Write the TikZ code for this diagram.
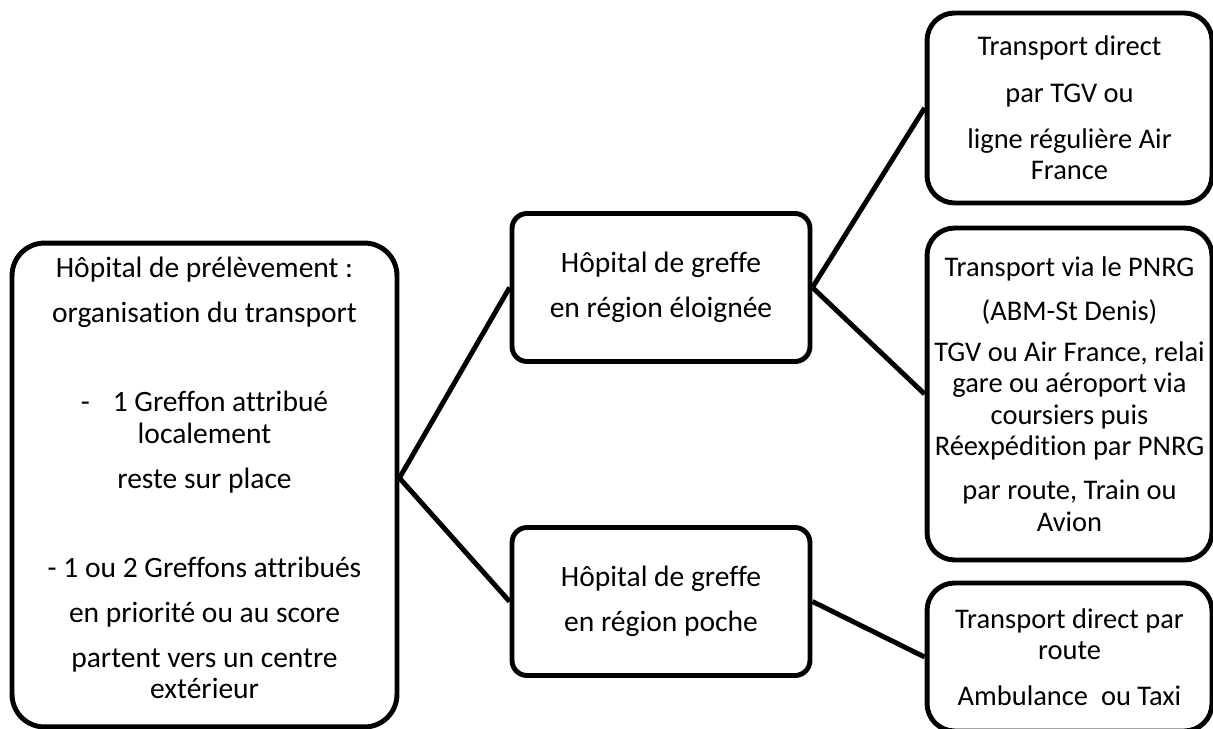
\documentclass[tikz,border=0pt]{standalone}
\usepackage{fontspec}
\setmainfont{Carlito}[Ligatures=NoCommon]

\begin{document}
\begin{tikzpicture}[x=0.02cm, y=-0.02cm,
  box/.style={draw, line width=2.8pt, align=center, inner sep=0pt,
    font=\fontsize{16.8}{17.8}\selectfont},
  bigbox/.style={box, rounded corners=0.65cm, minimum width=7.7cm, minimum height=9.68cm},
  midbox/.style={box, rounded corners=0.3cm, minimum width=5.96cm, minimum height=2.96cm},
  endbox/.style={box, rounded corners=0.55cm, minimum width=5.7cm,
    font=\fontsize{16.2}{17.8}\selectfont},
  link/.style={line width=2.8pt}]
\useasboundingbox (0,0) rectangle (1213,729);

% prelevement
\node[bigbox] (prel) at (204.5,485) {};
\node[align=center, font=\fontsize{16.8}{17.8}\selectfont] (prelt) at (204.5,478) {H\^opital de pr\'el\`evement :\\[7.8pt]
  organisation du transport\\[33pt]
  -\hspace{0.55em} 1 Greffon attribu\'e\\
  localement\\[7.8pt]
  reste sur place\\[33pt]
  - 1 ou 2 Greffons attribu\'es\\[7.8pt]
  en priorit\'e ou au score\\[7.8pt]
  partent vers un centre\\
  ext\'erieur};

% greffe
\node[midbox] (loin) at (661,287.5) {H\^opital de greffe\\[7.8pt] en r\'egion \'eloign\'ee};
\node[midbox] (poche) at (661,601.5) {H\^opital de greffe\\[7.8pt] en r\'egion poche};

% transports
\node[endbox, minimum height=3.8cm] (direct) at (1069.5,108) {Transport direct\\[8.5pt]
  par TGV ou\\[8.5pt]
  ligne r\'eguli\`ere Air\\
  France};
\node[endbox, minimum height=6.64cm] (pnrg) at (1069.5,394) {Transport via le PNRG\\[7.5pt]
  (ABM-St Denis)\\[5.5pt]
  TGV ou Air France, relai\\
  gare ou a\'eroport via\\
  coursiers puis\\
  R\'eexp\'edition par PNRG\\[7.5pt]
  par route, Train ou\\
  Avion};
\node[endbox, minimum height=2.96cm] (route) at (1069.5,657) {Transport direct par\\
  route\\[8.5pt]
  Ambulance~ ou Taxi};

\draw[link] (prelt -| prel.east) -- (loin.west);
\draw[link] (prelt -| prel.east) -- (poche.west);
\draw[link] (loin.east) -- (direct.west);
\draw[link] (loin.east) -- (pnrg.west);
\draw[link] (poche.east) -- (route.west);
\end{tikzpicture}
\end{document}
